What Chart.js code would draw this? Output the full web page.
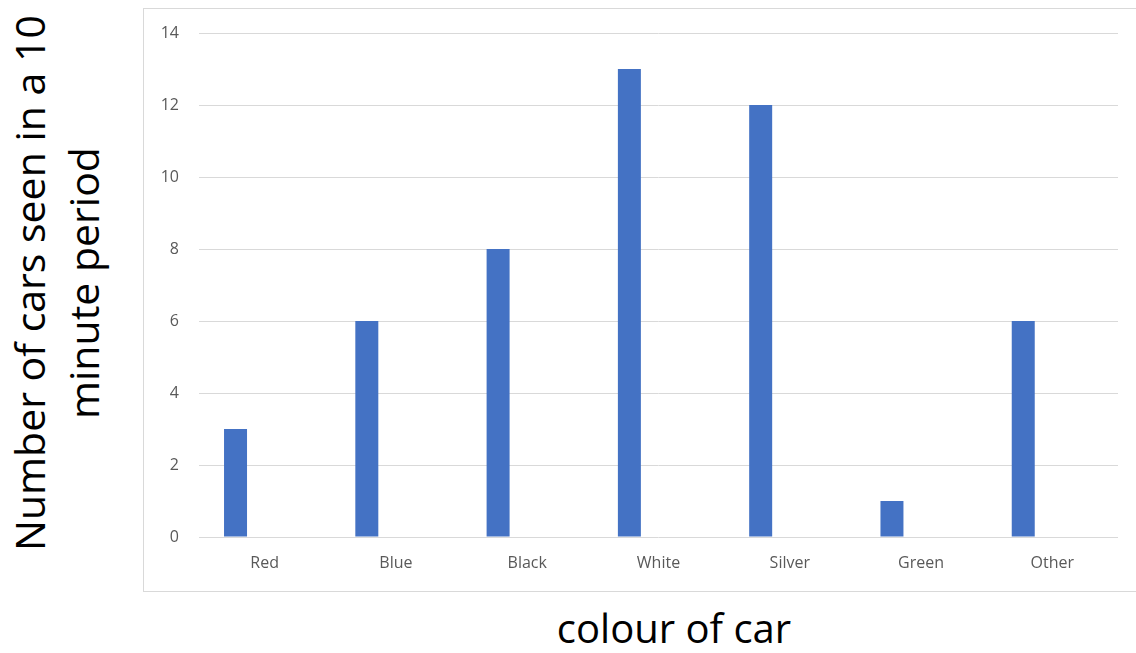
<!DOCTYPE html>
<html>
<head>
<meta charset="utf-8">
<script src="https://cdn.jsdelivr.net/npm/chart.js@4"></script>
<style>
  html, body { margin: 0; padding: 0; background: #fff; overflow: hidden; }
  body { width: 1136px; height: 653px; position: relative; }
  #box {
    position: absolute; left: 143px; top: 8px; width: 1010px; height: 584px;
    border: 1px solid #d9d9d9; box-sizing: border-box;
  }
  #box canvas { display: block; }
  .ytitle {
    position: absolute; left: 56px; top: 283px; width: 640px;
    transform: translate(-50%, -50%) rotate(-90deg);
    text-align: center; font-family: "Open Sans", sans-serif; font-size: 41px;
    line-height: 54px; color: #000; white-space: nowrap;
  }
  .xtitle {
    position: absolute; left: 674px; top: 627px; transform: translate(-50%, -50%);
    font-family: "Open Sans", sans-serif; font-size: 40px; color: #000; white-space: nowrap;
  }
</style>
</head>
<body>
<div id="box"><canvas id="carChart" width="1010" height="582"></canvas></div>
<div class="ytitle">Number of cars seen in a 10<br>minute period</div>
<div class="xtitle">colour of car</div>
<script>
// car counts per colour
const colours = ["Red", "Blue", "Black", "White", "Silver", "Green", "Other"];
const carCounts = [3, 6, 8, 13, 12, 1, 6];
// second series left blank in the sheet, it only takes up room beside each bar
const blankSeries = [null, null, null, null, null, null, null];
const yTicks = [0, 2, 4, 6, 8, 10, 12, 14];

const data = {
  labels: colours,
  datasets: [
    {
      label: "Cars",
      data: carCounts,
      backgroundColor: "#4472c4",
      categoryPercentage: 0.887,
      barPercentage: 0.395,
    },
    {
      label: "",
      data: blankSeries,
      backgroundColor: "#ed7d31",
      categoryPercentage: 0.887,
      barPercentage: 0.395,
    },
  ],
};

const config = {
  type: "bar",
  data: data,
  options: {
    responsive: false,
    animation: false,
    layout: {
      padding: { left: 0, right: 36, top: 24, bottom: 0 },
    },
    plugins: {
      legend: { display: false },
      tooltip: { enabled: false },
    },
    scales: {
      x: {
        grid: { display: false },
        border: { display: false },
        ticks: {
          color: "#595959",
          font: { family: "Open Sans", size: 16 },
          padding: 9,
        },
        afterFit: (s) => { s.height = 54; },
      },
      y: {
        min: 0,
        max: 14,
        afterBuildTicks: (s) => { s.ticks = yTicks.map((v) => ({ value: v })); },
        grid: { color: "#d9d9d9", lineWidth: 1, drawTicks: false },
        border: { display: false },
        ticks: {
          color: "#595959",
          font: { family: "Open Sans", size: 16 },
          padding: 20,
        },
        afterFit: (s) => {
          s.width = 55;
          s.paddingTop = 0;
          s.paddingBottom = 0;
        },
      },
    },
  },
};

new Chart(document.getElementById("carChart"), config);
</script>
</body>
</html>
